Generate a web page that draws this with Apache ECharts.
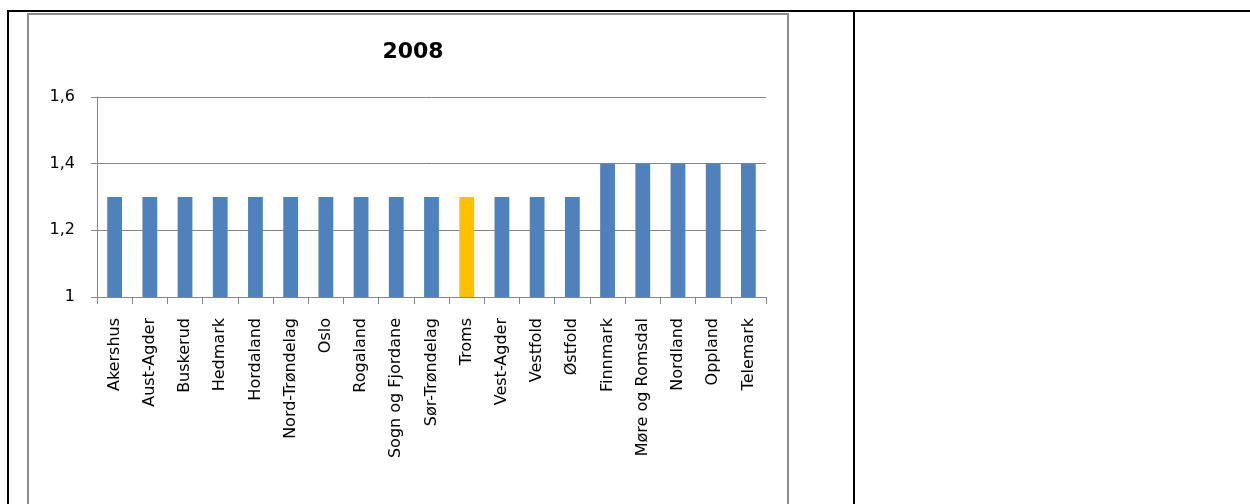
<!DOCTYPE html>
<html>
<head>
<meta charset="utf-8">
<script src="https://cdn.jsdelivr.net/npm/echarts@6/dist/echarts.min.js"></script>
<style>
html,body{margin:0;padding:0;background:#fff;}
#c{width:1250px;height:504px;}
</style>
</head>
<body>
<div id="c"></div>
<script>
const title = '2008';
const categories = ['Akershus','Aust-Agder','Buskerud','Hedmark','Hordaland','Nord-Trøndelag','Oslo','Rogaland','Sogn og Fjordane','Sør-Trøndelag','Troms','Vest-Agder','Vestfold','Østfold','Finnmark','Møre og Romsdal','Nordland','Oppland','Telemark'];
const values = [1.3,1.3,1.3,1.3,1.3,1.3,1.3,1.3,1.3,1.3,1.3,1.3,1.3,1.3,1.4,1.4,1.4,1.4,1.4];
const highlight = 'Troms';
const yTicks = [1, 1.2, 1.4, 1.6];

const BLUE = '#4F81BD', GOLD = '#FFC000', GRAY = '#868686';
const chart = echarts.init(document.getElementById('c'), null, {renderer:'canvas'});
chart.setOption({
  animation:false,
  backgroundColor:'#fff',
  title:{text:title,left:408,textAlign:'center',top:36,
    textStyle:{fontFamily:'DejaVu Sans',fontWeight:'bold',fontSize:22,color:'#000'}},
  grid:{left:97,right:484,top:97,bottom:207,containLabel:false},
  xAxis:{type:'category',data:categories,
    axisLine:{lineStyle:{color:GRAY,width:1}},
    axisTick:{show:true,length:7,lineStyle:{color:GRAY}},
    axisLabel:{rotate:90,margin:21,interval:0,color:'#000',fontFamily:'DejaVu Sans',fontSize:16}},
  yAxis:{type:'value',min:yTicks[0],max:yTicks[yTicks.length-1],interval:0.2,
    axisLine:{show:true,lineStyle:{color:GRAY,width:1}},
    axisTick:{show:true,length:6,lineStyle:{color:GRAY}},
    splitLine:{lineStyle:{color:GRAY,width:1}},
    axisLabel:{margin:22,color:'#000',fontFamily:'DejaVu Sans',fontSize:16,
      formatter:v=>String(+v.toFixed(1)).replace('.',',')}},
  series:[{type:'bar',barCategoryGap:'58%',
    data:values.map((v,i)=>({value:v,itemStyle:{color:categories[i]===highlight?GOLD:BLUE}}))}],
  graphic:[
    {type:'rect',shape:{x:28,y:14,width:760,height:520},style:{fill:'none',stroke:'#8c8c8c',lineWidth:2},silent:true,z:-1},
    {type:'line',shape:{x1:7,y1:11,x2:1250,y2:11},style:{stroke:'#000',lineWidth:2}},
    {type:'line',shape:{x1:8,y1:10,x2:8,y2:504},style:{stroke:'#000',lineWidth:2}},
    {type:'line',shape:{x1:854,y1:10,x2:854,y2:504},style:{stroke:'#000',lineWidth:2}}
  ]
});
</script>
</body>
</html>
